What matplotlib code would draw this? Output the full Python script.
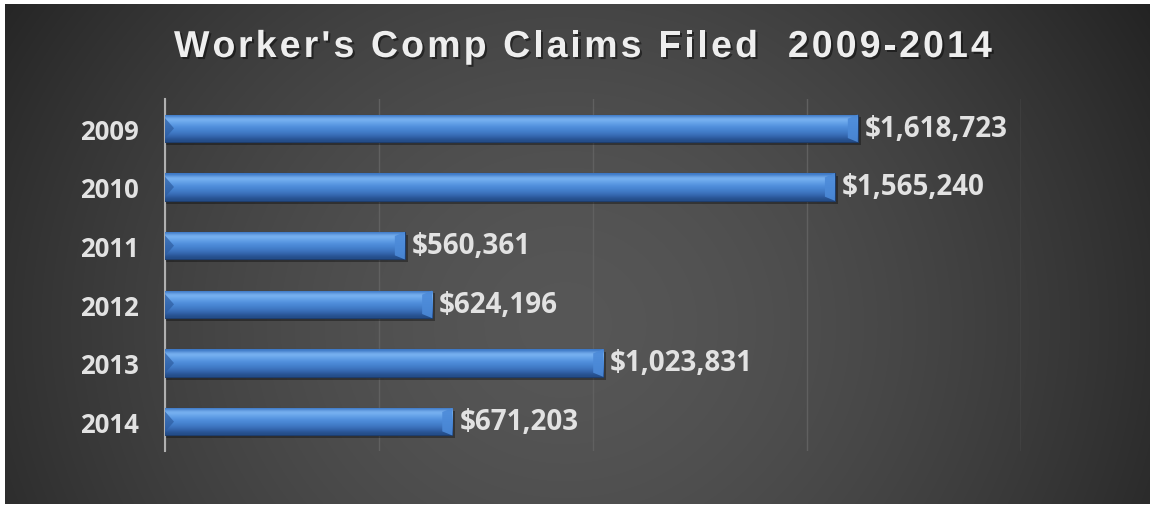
import numpy as np
import matplotlib
matplotlib.use('Agg')
import matplotlib.pyplot as plt
from matplotlib import patheffects as pe
from matplotlib.patches import Polygon
from matplotlib.font_manager import FontProperties

years = ['2009', '2010', '2011', '2012', '2013', '2014']
claims = [1618723, 1565240, 560361, 624196, 1023831, 671203]
title = "Worker's Comp Claims Filed  2009-2014"

W, H = 1154, 506
fig = plt.figure(figsize=(W / 100, H / 100), dpi=100, facecolor='white')

# dark radial background
bg = fig.add_axes([5 / W, 1 - 505 / H, 1145 / W, 500 / H])
yy, xx = np.mgrid[0:500, 0:1145]
r = np.hypot(xx - 560, (yy - 320) * 1.1) / 700
shade = np.clip(0.34 - 0.21 * r ** 1.6, 0.11, 0.35)
bg.imshow(np.dstack([shade] * 3), aspect='auto', interpolation='bilinear')
bg.set_axis_off()

# plot area
ax = fig.add_axes([165 / W, 1 - 452 / H, (1021 - 165) / W, (452 - 100) / H])
ax.patch.set_alpha(0)
ax.set_xlim(0, 2000000)
ax.set_ylim(5.5, -0.5)
ax.set_xticks([0, 500000, 1000000, 1500000, 2000000])
ax.xaxis.grid(True, color='#606060', lw=1)
ax.set_axisbelow(True)
ax.tick_params(axis='x', length=0, labelbottom=False)
for s in ['top', 'right', 'bottom']:
    ax.spines[s].set_visible(False)
ax.spines['left'].set_color('#b0b0b0')
ax.spines['left'].set_linewidth(1.5)

lab = FontProperties(family=['Open Sans', 'Lato'], weight='bold', size=18.5)
vlab = FontProperties(family=['Open Sans', 'Lato'], weight='bold', size=20)
ax.set_yticks(range(len(years)))
ax.set_yticklabels(years, fontproperties=lab, color='#e2e2e2')
ax.tick_params(axis='y', length=0, pad=19)

bh = 0.47
unit_px = 2000000 / (1021 - 165)
grad = np.array([
    [0x3b, 0x76, 0xc4], [0x80, 0xb8, 0xf4], [0x6c, 0xa8, 0xec], [0x5a, 0x98, 0xe2],
    [0x4c, 0x8a, 0xd8], [0x44, 0x80, 0xcc], [0x3c, 0x72, 0xbc], [0x30, 0x60, 0xa6],
    [0x24, 0x4c, 0x88]]) / 255.0

bars = ax.barh(range(len(years)), claims, height=bh, color='#4a88d8',
               edgecolor='#1e3d6c', lw=0.8, zorder=3)
for i, (b, v) in enumerate(zip(bars, claims)):
    # drop shadow
    ax.barh(i + 0.05, v + 3 * unit_px, height=bh, color='black', alpha=0.35, zorder=2, lw=0)
    im = ax.imshow(grad[:, None, :], extent=[0, v, i + bh / 2, i - bh / 2],
                   aspect='auto', interpolation='bicubic', zorder=3.5)
    im.set_clip_path(b)
    # bevel on the ends
    d = 10 * unit_px
    ax.add_patch(Polygon([[v - d, i - bh / 2 + 0.07], [v, i - bh / 2], [v, i + bh / 2],
                          [v - d, i + bh / 2 - 0.07]], closed=True, color='#4c8ad8',
                         alpha=0.9, zorder=4, lw=0))
    ax.add_patch(Polygon([[0, i - bh / 2 + 0.06], [d * 0.9, i], [0, i + bh / 2 - 0.06]],
                         closed=True, color='#2e5da0', alpha=0.7, zorder=4, lw=0))
    ax.text(v + 7 * unit_px, i, '${:,}'.format(v), va='center', ha='left',
            fontproperties=vlab, color='#e2e2e2', zorder=5)

ax.set_ylim(5.5, -0.5)
ax.set_xlim(0, 2000000)

# letter-spaced title
prop = FontProperties(family='Liberation Sans', weight='bold', size=27)
ren = fig.canvas.get_renderer()
def tw(s):
    return ren.get_text_width_height_descent(s, prop, ismath=False)[0]
xw = tw('X')
adv = [tw(title[:i] + 'X') - xw for i in range(len(title))]
natural = tw(title)
left, target = 174, 992 - 174
sp = (target - natural) / (len(title) - 1)
for i, ch in enumerate(title):
    if ch == ' ':
        continue
    fig.text((left + adv[i] + i * sp) / W, 1 - 48 / H, ch, fontproperties=prop,
             color='#eeeeee', ha='left', va='center',
             path_effects=[pe.withSimplePatchShadow(offset=(1.5, -1.5), shadow_rgbFace='black', alpha=0.45)])

fig.savefig('out.png', dpi=100, facecolor='white')
